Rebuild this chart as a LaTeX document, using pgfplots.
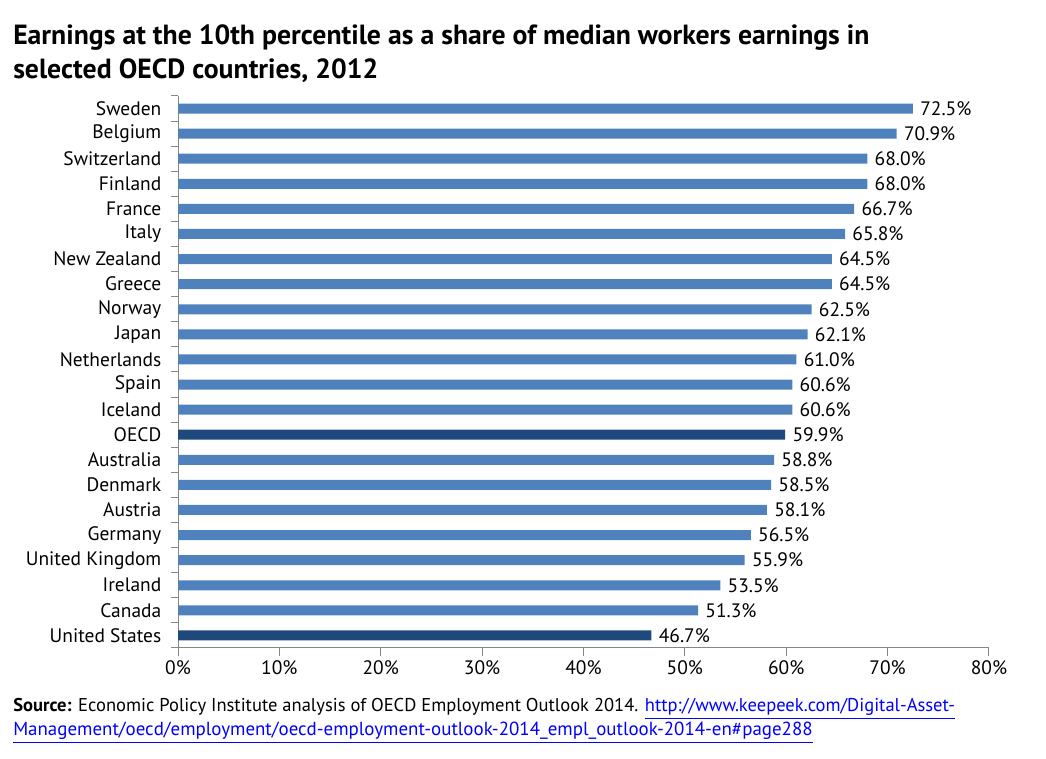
\documentclass[border=0pt]{standalone}
\usepackage{fontspec}
\setmainfont{PT Sans}
\usepackage{pgfplots}
\pgfplotsset{compat=1.18}
\definecolor{barblue}{HTML}{4F81BD}
\definecolor{bardark}{HTML}{1F497D}
\definecolor{axisgray}{HTML}{868686}
\definecolor{linkblue}{HTML}{0000FF}
\begin{document}
\begin{tikzpicture}[x=0.75pt,y=0.75pt]
\path (0,0) rectangle (1046,759);
% title
\node[anchor=base west, inner sep=0pt, font=\bfseries\fontsize{20.8}{24}\selectfont] at (13,714)
  {Earnings at the 10th percentile as a share of median workers earnings in};
\node[anchor=base west, inner sep=0pt, font=\bfseries\fontsize{20.8}{24}\selectfont] at (13,680)
  {selected OECD countries, 2012};
% source
\node[anchor=base west, inner sep=0pt, font=\fontsize{13.9}{16}\selectfont] at (13,47)
  {\textbf{Source:} Economic Policy Institute analysis of OECD Employment Outlook 2014. \textcolor{linkblue}{\underline{http://www.keepeek.com/Digital-Asset-}}};
\node[anchor=base west, inner sep=0pt, font=\fontsize{14.2}{16}\selectfont] at (13,23)
  {\textcolor{linkblue}{\underline{Management/oecd/employment/oecd-employment-outlook-2014\_empl\_outlook-2014-en\#page288}}};
\begin{axis}[
  at={(133.5pt,83.25pt)}, anchor=south west,
  scale only axis, width=608.25pt, height=414pt,
  xbar, bar width=7.5pt, bar shift=0pt,
  xmin=0, xmax=80, ymin=-0.5, ymax=21.5,
  axis x line*=bottom, axis y line*=left,
  axis line style={axisgray, line width=0.75pt, -},
  tick style={axisgray, line width=0.75pt},
  tick align=outside,
  major tick length=6pt, minor tick length=5pt,
  xtick={0,10,...,80},
  xticklabels={0\%,10\%,20\%,30\%,40\%,50\%,60\%,70\%,80\%},
  ytick={0,...,21},
  yticklabels={United States,Canada,Ireland,United Kingdom,Germany,Austria,Denmark,Australia,OECD,Iceland,Spain,Netherlands,Japan,Norway,Greece,New Zealand,Italy,France,Finland,Switzerland,Belgium,Sweden},
  minor ytick={-0.5,0.5,...,21.5},
  major y tick style={draw=none},
  ticklabel style={font=\fontsize{14.6}{17}\selectfont, black},
  yticklabel style={xshift=-3pt},
  /pgf/number format/assume math mode=true,
  nodes near coords={\pgfmathprintnumber[fixed,fixed zerofill,precision=1]{\pgfplotspointmeta}\%},
  nodes near coords style={black, anchor=west, xshift=2pt, font=\fontsize{14.6}{17}\selectfont},
]
\addplot[fill=barblue, draw=none] coordinates {
  (72.5,21) (70.9,20) (68.0,19) (68.0,18) (66.7,17) (65.8,16) (64.5,15)
  (64.5,14) (62.5,13) (62.1,12) (61.0,11) (60.6,10) (60.6,9)
  (58.8,7) (58.5,6) (58.1,5) (56.5,4) (55.9,3) (53.5,2) (51.3,1)};
\addplot[fill=bardark, draw=none] coordinates {(59.9,8) (46.7,0)};
\end{axis}
\end{tikzpicture}
\end{document}
